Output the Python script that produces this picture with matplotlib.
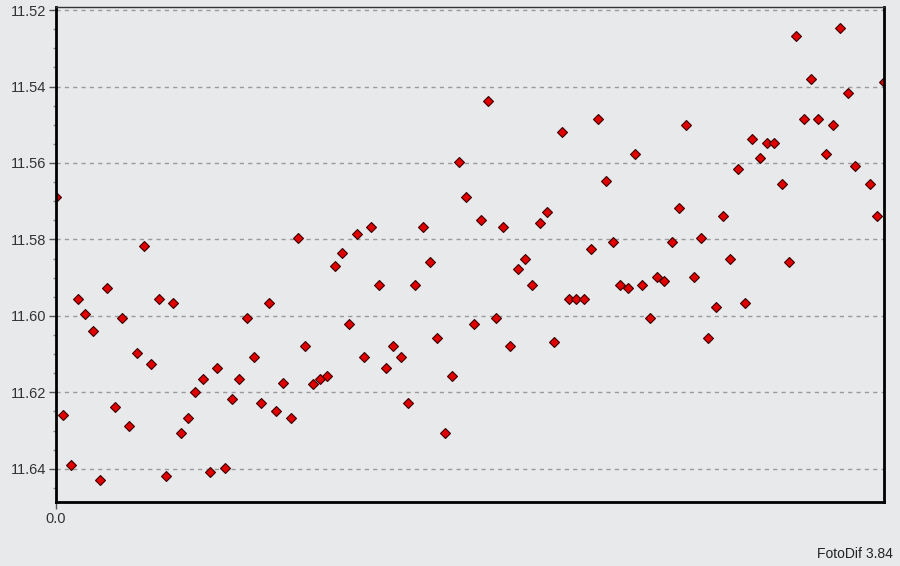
import matplotlib
matplotlib.use('Agg')
import matplotlib.pyplot as plt
from matplotlib.ticker import MultipleLocator

# Indice de la toma (falta la 110) y magnitud diferencial
tomas = list(range(0, 110)) + [111, 112, 113]
magnitudes = [
    11.5690, 11.6258, 11.6390, 11.5957, 11.5996, 11.6039, 11.6428, 11.5928, 11.6239, 11.6006,
    11.6287, 11.6098, 11.5817, 11.6127, 11.5957, 11.6418, 11.5967, 11.6307, 11.6268, 11.6199,
    11.6166, 11.6409, 11.6137, 11.6399, 11.6218, 11.6166, 11.6006, 11.6108, 11.6228, 11.5967,
    11.6248, 11.6176, 11.6268, 11.5797, 11.6078, 11.6177, 11.6166, 11.6157, 11.5870, 11.5836,
    11.6020, 11.5787, 11.6108, 11.5768, 11.5919, 11.6137, 11.6078, 11.6108, 11.6229, 11.5919,
    11.5768, 11.5859, 11.6059, 11.6307, 11.6157, 11.5598, 11.5688, 11.6020, 11.5748, 11.5437,
    11.6006, 11.5768, 11.6078, 11.5878, 11.5850, 11.5919, 11.5758, 11.5728, 11.6069, 11.5519,
    11.5957, 11.5957, 11.5957, 11.5826, 11.5486, 11.5647, 11.5807, 11.5919, 11.5928, 11.5577,
    11.5919, 11.6006, 11.5898, 11.5908, 11.5807, 11.5719, 11.5500, 11.5898, 11.5797, 11.6059,
    11.5977, 11.5738, 11.5850, 11.5617, 11.5967, 11.5538, 11.5587, 11.5549, 11.5549, 11.5656,
    11.5859, 11.5267, 11.5486, 11.5379, 11.5486, 11.5577, 11.5500, 11.5248, 11.5418, 11.5607,
    11.5656, 11.5738, 11.5388,
]
yticks = [11.52, 11.54, 11.56, 11.58, 11.60, 11.62, 11.64]

fondo = '#e8e9eb'
plt.rcParams['font.family'] = ['Liberation Sans', 'DejaVu Sans']

fig = plt.figure(figsize=(9, 5.66), dpi=100, facecolor=fondo)
ax = fig.add_axes([0.0622, 0.1136, 0.9204, 0.874])
ax.set_facecolor(fondo)

ax.plot(tomas, magnitudes, linestyle='none', marker='D', markersize=5.4,
        markerfacecolor='#e00000', markeredgecolor='#3a0000', markeredgewidth=0.8)

ax.set_xlim(0, 113)
ax.set_ylim(11.6486, 11.5192)

ax.set_yticks(yticks)
ax.set_yticklabels(['%.2f' % v for v in yticks])
ax.yaxis.set_minor_locator(MultipleLocator(0.005))
ax.set_xticks([0])
ax.set_xticklabels(['0.0'])

ax.grid(axis='y', which='major', color='#9a9a9a', linestyle=(0, (3, 3)), linewidth=1)
ax.tick_params(axis='both', which='major', length=5, width=1, color='#555555',
               labelsize=10.5, labelcolor='#333333', pad=2)
ax.tick_params(axis='y', which='minor', length=2.5, width=1, color='#888888')
ax.tick_params(axis='x', pad=2.5)

for lado in ['left', 'bottom', 'right']:
    ax.spines[lado].set_linewidth(2)
    ax.spines[lado].set_color('black')
ax.spines['top'].set_linewidth(1)
ax.spines['top'].set_color('#333333')

fig.text(0.992, 0.009, 'FotoDif 3.84', ha='right', va='bottom', fontsize=10, color='#222222')

fig.savefig('out.png', dpi=100, facecolor=fondo)
